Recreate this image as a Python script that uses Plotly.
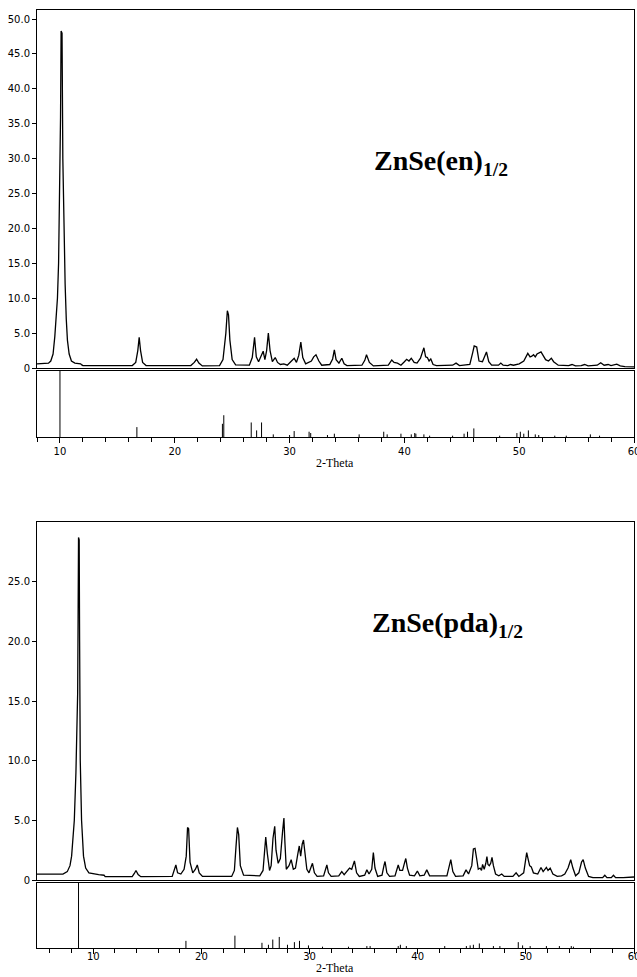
import plotly.graph_objects as go

# ---------------- ZnSe(en)1/2 : measured profile (2-theta, intensity) ----------------
en_theta = [8.0, 9.0, 9.2, 9.4, 9.55, 9.65, 9.78, 9.88, 9.95, 9.98, 10.05, 10.1, 10.18, 10.25, 10.35,
            10.45, 10.55, 10.65, 10.8, 11.0, 11.3, 11.8, 11.9, 12.0,
            16.3, 16.6, 16.78, 16.9, 17.02, 17.2, 17.5,
            21.4, 21.7, 21.9, 22.1, 22.4,
            23.9, 24.2, 24.45, 24.58, 24.68, 24.8, 25.0, 25.3,
            26.5, 26.75, 26.95, 27.1, 27.3, 27.55, 27.7, 27.85, 28.0, 28.15, 28.3, 28.5, 28.75, 28.95,
            29.2, 29.5, 29.8, 30.1, 30.4, 30.6, 30.8, 30.98, 31.15, 31.4, 31.7, 31.9, 32.1, 32.3, 32.55,
            32.8, 33.5, 33.75, 33.9, 34.05, 34.3, 34.55, 34.75, 35.0,
            36.3, 36.55, 36.7, 36.95, 37.3,
            38.6, 38.9, 39.1, 39.4, 39.7, 40.0, 40.2, 40.4, 40.6, 40.85, 41.1, 41.4, 41.7, 41.85, 42.0,
            42.15, 42.3, 42.5, 42.8,
            44.2, 44.5, 44.8, 45.7, 45.95, 46.08, 46.3, 46.5, 46.8, 47.0, 47.15, 47.35, 47.6,
            48.2, 48.4, 48.6, 49.0, 49.25, 49.5, 50.0, 50.4, 50.75, 50.95, 51.1, 51.25, 51.4, 51.55,
            51.9, 52.05, 52.3, 52.55, 52.8, 53.0, 53.4,
            54.3, 54.6, 54.9, 55.4, 55.7, 56.0, 56.8, 57.1, 57.4, 57.75, 58.0, 58.5, 58.8, 59.2, 60.0]
en_counts = [0.6, 0.7, 1.0, 2.0, 4.5, 7.0, 10.0, 15.0, 22.0, 31.0, 36.0, 48.3, 48.0, 30.0, 18.0,
             12.0, 7.0, 4.0, 2.0, 1.0, 0.7, 0.6, 0.45, 0.35,
             0.35, 0.8, 2.5, 4.4, 2.5, 0.8, 0.35,
             0.35, 0.8, 1.25, 0.7, 0.3,
             0.35, 1.2, 5.0, 8.2, 7.6, 4.0, 1.2, 0.45,
             0.4, 1.5, 4.4, 1.6, 0.9, 2.0, 2.4, 1.2, 2.5, 5.0, 2.5, 0.9, 1.5, 0.8,
             0.5, 0.6, 0.4, 0.9, 1.4, 0.8, 1.8, 3.7, 1.5, 0.6, 0.8, 1.0, 1.6, 1.9, 1.0,
             0.4, 0.5, 1.3, 2.6, 1.2, 0.7, 1.4, 0.6, 0.35,
             0.4, 1.1, 1.9, 0.8, 0.3,
             0.4, 1.15, 0.8, 0.7, 0.4, 0.9, 1.25, 1.0, 1.4, 0.8, 0.7, 1.4, 2.9, 1.6, 1.5,
             1.0, 1.3, 0.5, 0.35,
             0.4, 0.7, 0.35, 0.5, 2.2, 3.15, 3.0, 1.0, 0.9, 1.8, 2.3, 0.9, 0.4,
             0.4, 0.7, 0.4, 0.35, 0.5, 0.4, 0.6, 1.0, 2.1, 1.6, 1.7, 1.9, 1.6, 2.0,
             2.3, 1.8, 1.2, 1.0, 1.4, 0.9, 0.4,
             0.35, 0.5, 0.3, 0.35, 0.5, 0.3, 0.4, 0.75, 0.4, 0.5, 0.35, 0.55, 0.3, 0.2, 0.15]

# reference stick pattern (relative intensity, %)
en_stick_pos = [10.0, 16.7, 24.15, 24.27, 26.66, 27.13, 27.56, 28.58, 30.0, 30.4, 31.7, 31.84,
                33.3, 33.9, 36.06, 38.2, 38.5, 39.7, 40.6, 40.9, 41.0, 41.7, 42.2, 44.2, 45.2,
                45.5, 46.05, 48.3, 49.8, 50.1, 50.4, 50.8, 51.4, 51.7, 53.1, 54.1, 56.2, 57.0]
en_stick_int = [100, 15, 20, 33, 22, 10, 22, 4, 3, 9, 8, 6,
                3, 5, 4, 8, 4, 5, 4, 6, 5, 4, 2, 2, 5,
                8, 13, 2, 6, 8, 5, 10, 4, 3, 2, 2, 4, 2]

# ---------------- ZnSe(pda)1/2 : measured profile ----------------
pda_theta = [4.8, 7.2, 7.6, 7.85, 8.0, 8.15, 8.25, 8.4, 8.5, 8.56, 8.6, 8.64, 8.7, 8.74, 8.8, 8.92,
             9.0, 9.1, 9.3, 9.6, 10.5, 11.0, 11.1,
             13.6, 13.8, 13.95, 14.15, 14.4,
             17.3, 17.5, 17.64, 17.8, 18.1, 18.4, 18.6, 18.72, 18.82, 18.95, 19.2, 19.45, 19.62, 19.8, 20.1,
             22.8, 23.05, 23.2, 23.33, 23.45, 23.6, 23.9,
             25.4, 25.7, 25.85, 25.95, 26.1, 26.3, 26.45, 26.62, 26.78, 26.9, 27.1, 27.3, 27.5, 27.63,
             27.72, 27.85, 28.1, 28.3, 28.5, 28.7, 28.9, 29.05, 29.18, 29.32, 29.44, 29.6, 29.75, 29.95,
             30.15, 30.27, 30.45, 30.7,
             31.3, 31.5, 31.6, 31.75, 32.0, 32.7, 32.98, 33.2, 33.45, 33.7, 33.9, 34.05, 34.15, 34.35,
             34.6, 35.1, 35.3, 35.5, 35.75, 35.9, 36.05, 36.3, 36.7, 36.88, 36.98, 37.15, 37.4,
             37.9, 38.1, 38.2, 38.35, 38.6, 38.8, 38.9, 39.05, 39.25, 39.7, 39.97, 40.2, 40.6, 40.84, 41.1,
             42.7, 42.9, 43.06, 43.25, 43.5,
             44.2, 44.47, 44.7, 45.0, 45.15, 45.3, 45.45, 45.6, 45.77, 45.9, 46.0, 46.15, 46.3, 46.4,
             46.5, 46.62, 46.75, 46.87, 47.0, 47.2, 47.5, 47.77, 48.0,
             48.8, 49.1, 49.35, 49.8, 49.95, 50.08, 50.2, 50.35, 50.5, 50.7, 51.1, 51.4, 51.6, 51.9,
             52.05, 52.25, 52.5, 52.9, 53.3, 53.6, 53.9, 54.15, 54.35, 54.6, 54.9, 55.15, 55.3, 55.5,
             55.8, 56.2, 57.1, 57.3, 57.5, 57.9, 58.1, 58.3, 59.0, 60.0]
pda_counts = [0.5, 0.5, 0.7, 1.2, 2.0, 3.5, 5.0, 9.0, 13.0, 15.7, 22.0, 28.7, 28.5, 20.0, 10.0, 5.0,
              3.5, 2.0, 1.0, 0.6, 0.45, 0.4, 0.28,
              0.28, 0.55, 0.8, 0.45, 0.28,
              0.3, 0.8, 1.26, 0.6, 0.5, 0.9, 2.0, 4.4, 4.3, 1.5, 0.6, 0.9, 1.26, 0.6, 0.3,
              0.3, 0.8, 2.8, 4.4, 3.8, 1.2, 0.4,
              0.35, 0.8, 2.6, 3.6, 2.2, 0.8, 1.2, 3.5, 4.5, 2.5, 1.4, 1.8, 4.0, 5.2,
              3.2, 0.9, 1.2, 1.7, 0.9, 1.0, 2.1, 2.85, 2.0, 3.0, 3.35, 2.2, 0.9, 0.6,
              1.2, 1.4, 0.6, 0.3,
              0.35, 0.9, 1.26, 0.6, 0.3, 0.35, 0.7, 0.45, 0.7, 1.0, 0.9, 1.4, 1.6, 0.6,
              0.3, 0.4, 0.85, 0.5, 0.9, 2.3, 1.0, 0.3, 0.4, 1.2, 1.55, 0.6, 0.3,
              0.35, 1.1, 1.26, 0.8, 0.8, 1.5, 1.8, 1.0, 0.4, 0.35, 0.75, 0.35, 0.4, 0.85, 0.35,
              0.35, 1.0, 1.7, 0.7, 0.3,
              0.35, 0.85, 0.5, 1.2, 2.6, 2.65, 1.8, 0.9, 1.0, 0.8, 1.3, 0.9, 1.4, 1.96,
              1.3, 1.2, 1.4, 1.9, 1.2, 0.5, 0.35, 0.5, 0.3,
              0.3, 0.6, 0.3, 0.6, 1.5, 2.3, 1.8, 1.2, 1.1, 0.6, 0.5, 1.05, 0.7, 1.05,
              0.8, 1.0, 0.5, 0.3, 0.35, 0.5, 1.0, 1.7, 1.0, 0.35, 0.6, 1.5, 1.7, 1.0,
              0.3, 0.2, 0.2, 0.4, 0.2, 0.2, 0.4, 0.2, 0.2, 0.25]

pda_stick_pos = [8.64, 18.57, 23.1, 25.6, 26.2, 26.6, 27.2, 27.96, 28.6, 29.07, 29.9, 31.2, 33.6,
                 35.3, 35.6, 38.2, 38.4, 38.95, 42.5, 44.5, 44.85, 45.15, 45.7, 47.0, 47.6, 49.3,
                 49.7, 50.4, 51.9, 53.1, 54.2, 54.4]
pda_stick_int = [100, 11, 19, 8, 5, 13, 17, 5, 9, 11, 4, 2, 2,
                 3, 3, 3, 5, 3, 3, 3, 4, 5, 7, 3, 3, 9,
                 4, 3, 3, 3, 3, 2]

en_yticks = [0, 5, 10, 15, 20, 25, 30, 35, 40, 45, 50]
en_yticktext = ["0", "5.0", "10.0", "15.0", "20.0", "25.0", "30.0", "35.0", "40.0", "45.0", "50.0"]
pda_yticks = [0, 5, 10, 15, 20, 25]
pda_yticktext = ["0", "5.0", "10.0", "15.0", "20.0", "25.0"]
x_ticks = [10, 20, 30, 40, 50, 60]
x_ticktext = ["10", "20", "30", "40", "50", "60"]


def sticks(pos, inten):
    xs, ys = [], []
    for p, h in zip(pos, inten):
        xs += [p, p, None]
        ys += [0, h, None]
    return xs, ys


W, H = 637, 977
def py(px):
    return 1 - px / H

xdom = [37 / W, 634 / W]

fig = go.Figure()
fig.add_trace(go.Scatter(x=en_theta, y=en_counts, mode="lines", xaxis="x", yaxis="y",
                         line=dict(color="black", width=1.3), showlegend=False))
sx, sy = sticks(en_stick_pos, en_stick_int)
fig.add_trace(go.Scatter(x=sx, y=sy, mode="lines", xaxis="x2", yaxis="y2",
                         line=dict(color="black", width=1), showlegend=False))
fig.add_trace(go.Scatter(x=pda_theta, y=pda_counts, mode="lines", xaxis="x3", yaxis="y3",
                         line=dict(color="black", width=1.3), showlegend=False))
sx, sy = sticks(pda_stick_pos, pda_stick_int)
fig.add_trace(go.Scatter(x=sx, y=sy, mode="lines", xaxis="x4", yaxis="y4",
                         line=dict(color="black", width=1), showlegend=False))

frame = dict(showline=True, mirror=True, linecolor="black", linewidth=1,
             showgrid=False, zeroline=False, automargin=False)
tickfont = dict(family="DejaVu Sans", size=10, color="black")

def main_x(rng, anchor):
    return dict(domain=xdom, range=rng, anchor=anchor, showticklabels=False, ticks="", **frame)

def stick_x(rng, anchor, standoff):
    return dict(domain=xdom, range=rng, anchor=anchor, tickvals=x_ticks, ticktext=x_ticktext,
                ticks="outside", ticklen=5, tickcolor="black", tickfont=tickfont,
                ticklabeloverflow="allow", ticklabelstandoff=standoff,
                minor=dict(dtick=2, tick0=0, ticks="outside", ticklen=4, tickcolor="black"),
                **frame)

def main_y(dom, rng, vals, text, anchor):
    return dict(domain=dom, range=rng, anchor=anchor, tickvals=vals, ticktext=text,
                ticks="outside", ticklen=4, tickcolor="black", tickfont=tickfont, **frame)

def stick_y(dom, anchor):
    return dict(domain=dom, range=[0, 100], anchor=anchor, showticklabels=False, ticks="", **frame)

fig.update_layout(
    width=W, height=H, margin=dict(l=0, r=0, t=0, b=0, autoexpand=False),
    paper_bgcolor="white", plot_bgcolor="white", showlegend=False,
    xaxis=main_x([8, 60], "y"),
    yaxis=main_y([py(368), py(10)], [0, 51.3], en_yticks, en_yticktext, "x"),
    xaxis2=stick_x([8, 60], "y2", 0),
    yaxis2=stick_y([py(437), py(371)], "x2"),
    xaxis3=main_x([4.8, 60], "y3"),
    yaxis3=main_y([py(880), py(522)], [0, 30.0], pda_yticks, pda_yticktext, "x3"),
    xaxis4=stick_x([4.8, 60], "y4", -6),
    yaxis4=stick_y([py(948), py(883)], "x4"),
)

label_font = dict(family="Liberation Serif", size=28, color="black")
axis_font = dict(family="Liberation Serif", size=12, color="black")
fig.add_annotation(x=372 / W, y=py(162), xref="paper", yref="paper", xanchor="left", yanchor="middle",
                   text="<b>ZnSe(en)<sub>1/2</sub></b>", showarrow=False, font=label_font)
fig.add_annotation(x=370 / W, y=py(624), xref="paper", yref="paper", xanchor="left", yanchor="middle",
                   text="<b>ZnSe(pda)<sub>1/2</sub></b>", showarrow=False, font=label_font)
fig.add_annotation(x=335 / W, y=py(463), xref="paper", yref="paper", xanchor="center", yanchor="middle",
                   text="2-Theta", showarrow=False, font=axis_font)
fig.add_annotation(x=335 / W, y=py(977), xref="paper", yref="paper", xanchor="center", yanchor="bottom",
                   text="2-Theta", showarrow=False, font=axis_font)

fig.write_html("out.html", config={"displayModeBar": False},
               post_script="document.body.style.margin='0';document.body.style.overflow='hidden';")
